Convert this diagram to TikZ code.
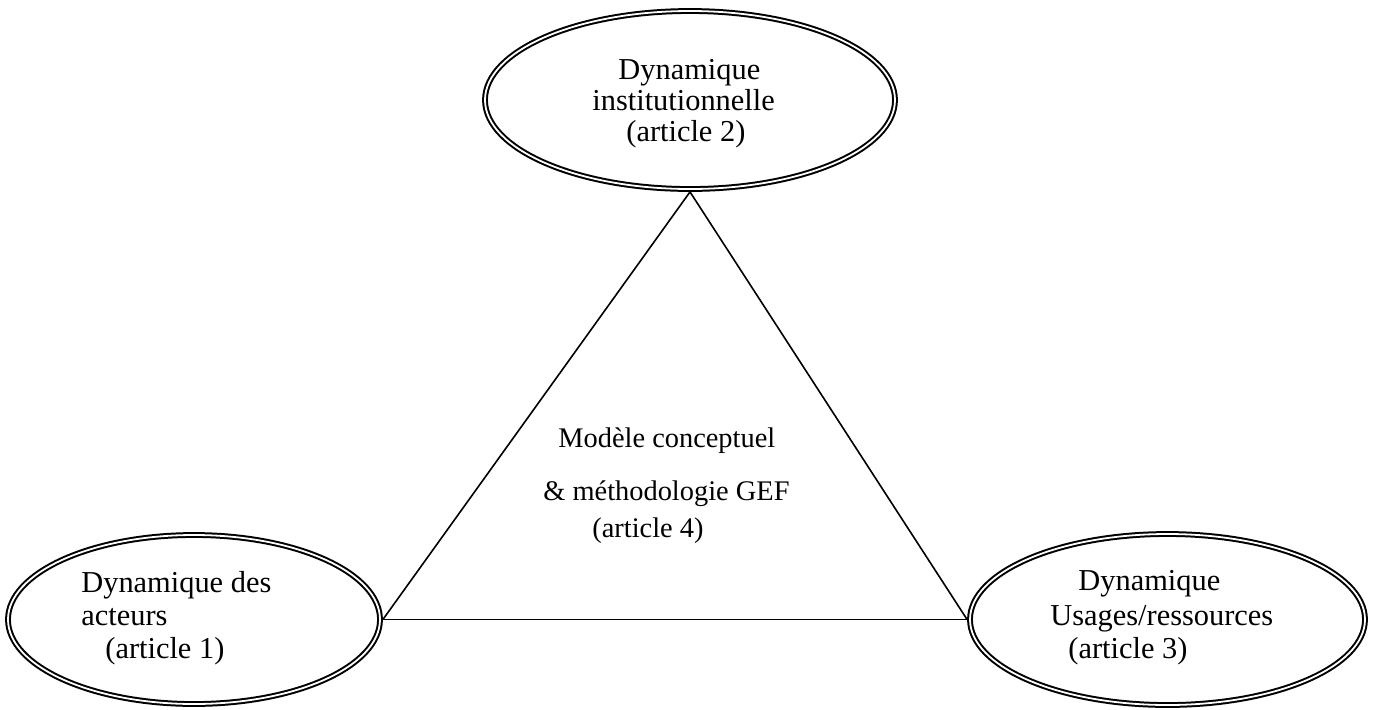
\documentclass[tikz,border=0pt]{standalone}
\usepackage{fontspec}
\setmainfont{Liberation Serif}
\usetikzlibrary{shapes.geometric}
\begin{document}
\begin{tikzpicture}[x=0.5pt,y=-0.5pt,
  bubble/.style={draw, double, line width=1pt, double distance=0.9pt,
    ellipse, inner sep=0pt, outer sep=1.45pt},
  txt/.style={anchor=base west, inner sep=0pt, font=\fontsize{15.2pt}{17pt}\selectfont},
  midtxt/.style={txt, font=\fontsize{14.2pt}{16pt}\selectfont},
  edge/.style={line width=0.8pt}]
\useasboundingbox (0,0) rectangle (1378,709);

% the three dynamics
\node[bubble, minimum width=205pt, minimum height=89pt] (inst) at (690,100) {};
\node[bubble, minimum width=186pt, minimum height=84.5pt] (act) at (194,619.5) {};
\node[bubble, minimum width=197.5pt, minimum height=85.5pt] (res) at (1167.5,619.5) {};

% triangle linking them
\draw[edge] (inst.south) -- (act.east);
\draw[edge] (act.east) -- (res.west);
\draw[edge] (inst.south) -- (res.west);

% texts of the ellipses
\node[txt] (inst1) at (618,79) {Dynamique};
\node[txt] (inst2) at (592,110) {institutionnelle};
\node[txt] (inst3) at (626,141) {(article 2)};

\node[txt] (act1) at (81,592) {Dynamique des};
\node[txt] (act2) at (81,625) {acteurs};
\node[txt] (act3) at (105,658) {(article 1)};

\node[txt] (res1) at (1078,590) {Dynamique};
\node[txt] (res2) at (1050,625) {Usages/ressources};
\node[txt] (res3) at (1068,658) {(article 3)};

% centre of the triangle
\node[midtxt] (mid1) at (558,447) {Modèle conceptuel};
\node[midtxt] (mid2) at (543,500) {\& méthodologie GEF};
\node[midtxt] (mid3) at (592,537) {(article 4)};
\end{tikzpicture}
\end{document}
